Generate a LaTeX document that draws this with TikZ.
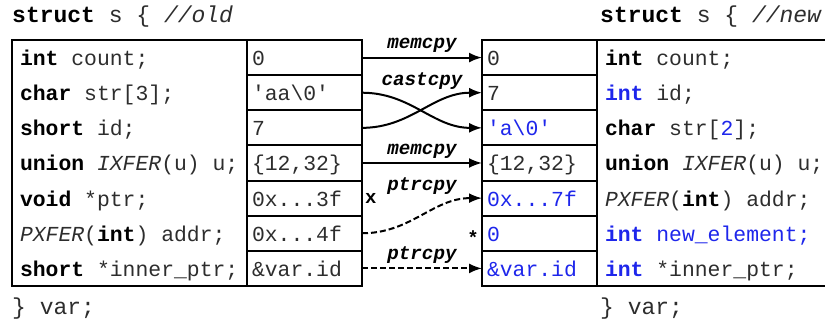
\documentclass[tikz,border=0pt]{standalone}
\usepackage{fontspec}
\setmonofont{Liberation Mono}
\usetikzlibrary{arrows.meta,positioning,calc}
\definecolor{newblue}{RGB}{30,38,235}
\definecolor{codegray}{RGB}{45,45,45}
\newcommand{\kw}[1]{{\bfseries\color{black}#1}}
\newcommand{\ty}[1]{\textit{#1}}
\newcommand{\nb}[1]{\textcolor{newblue}{#1}}

\begin{document}
\begin{tikzpicture}[x=1pt, y=-1pt,
	code/.style = {font=\ttfamily\fontsize{21.4}{24}\selectfont, text=codegray},
	cell/.style = {code, draw, line width=2pt, outer sep=0pt, minimum width=115pt, minimum height=35.14pt, inner xsep=5pt, inner ysep=0pt, text width=105pt, align=flush left, text height=20pt, text depth=4pt},
	lfield/.style = {code, outer sep=0pt, minimum height=35.14pt, minimum width=235pt, inner xsep=8pt, inner ysep=0pt, text width=219pt, align=flush left, text height=20pt, text depth=4pt},
	rfield/.style = {lfield, minimum width=245pt, text width=229pt},
	head/.style = {font=\ttfamily\fontsize{23}{26}\selectfont, text=codegray, inner sep=0pt, anchor=base west},
	lbl/.style = {font=\ttfamily\bfseries\itshape\fontsize{19.2}{21}\selectfont, inner sep=1pt},
	sym/.style = {font=\ttfamily\bfseries\fontsize{19}{21}\selectfont, inner sep=3pt},
	cp/.style = {line width=2pt, -{Latex[length=13pt,width=10pt]}},
	ptr/.style = {cp, dash pattern=on 6pt off 3pt}]
	\useasboundingbox (0,0) rectangle (825,323);

	% old struct
	\node[head] (oldhead) at (12,23) {\kw{struct} s \{ \ty{//old}};
	\node[cell] (ov1) at (304.5,57.57) {0};
	\node[cell, below=0pt of ov1] (ov2) {'aa\textbackslash0'};
	\node[cell, below=0pt of ov2] (ov3) {7};
	\node[cell, below=0pt of ov3] (ov4) {\{12,32\}};
	\node[cell, below=0pt of ov4] (ov5) {0x...3f};
	\node[cell, below=0pt of ov5] (ov6) {0x...4f};
	\node[cell, below=0pt of ov6] (ov7) {\&var.id};
	\node[lfield, left=0pt of ov1] (of1) {\kw{int} count;};
	\node[lfield, left=0pt of ov2] (of2) {\kw{char} str[3];};
	\node[lfield, left=0pt of ov3] (of3) {\kw{short} id;};
	\node[lfield, left=0pt of ov4] (of4) {\kw{union} \ty{IXFER}(u) u;};
	\node[lfield, left=0pt of ov5] (of5) {\kw{void} *ptr;};
	\node[lfield, left=0pt of ov6] (of6) {\ty{PXFER}(\kw{int}) addr;};
	\node[lfield, left=0pt of ov7] (of7) {\kw{short} *inner\_ptr;};
	\draw[line width=2pt] (of1.north west) rectangle (of7.south east);
	\node[head] (oldtail) at (12,314) {\} var;};

	% new struct
	\node[head] (newhead) at (600,23) {\kw{struct} s \{ \ty{//new}};
	\node[cell] (nv1) at (539.5,57.57) {0};
	\node[cell, below=0pt of nv1] (nv2) {7};
	\node[cell, below=0pt of nv2] (nv3) {\nb{'a\textbackslash0'}};
	\node[cell, below=0pt of nv3] (nv4) {\{12,32\}};
	\node[cell, below=0pt of nv4] (nv5) {\nb{0x...7f}};
	\node[cell, below=0pt of nv5] (nv6) {\nb{0}};
	\node[cell, below=0pt of nv6] (nv7) {\nb{\&var.id}};
	\node[rfield, right=0pt of nv1] (nf1) {\kw{int} count;};
	\node[rfield, right=0pt of nv2] (nf2) {\nb{\bfseries int} id;};
	\node[rfield, right=0pt of nv3] (nf3) {\kw{char} str[\nb{2}];};
	\node[rfield, right=0pt of nv4] (nf4) {\kw{union} \ty{IXFER}(u) u;};
	\node[rfield, right=0pt of nv5] (nf5) {\ty{PXFER}(\kw{int}) addr;};
	\node[rfield, right=0pt of nv6] (nf6) {\nb{\bfseries int} \nb{new\_element;}};
	\node[rfield, right=0pt of nv7] (nf7) {\nb{\bfseries int} *inner\_ptr;};
	\draw[line width=2pt] (nf1.north west) rectangle (nf7.south east);
	\node[head] (newtail) at (600,314) {\} var;};

	% copies
	\draw[cp] (ov1.east) -- node[lbl, above=3pt] (l1) {memcpy} (nv1.west);
	\draw[cp] (ov2.east) to[out=0,in=180] (nv3.west);
	\draw[cp] (ov3.east) to[out=0,in=180] (nv2.west);
	\node[lbl, above=2pt] (l2) at ($(ov2.east)!0.5!(nv2.west)$) {castcpy};
	\draw[cp] (ov4.east) -- node[lbl, above=3pt] (l3) {memcpy} (nv4.west);
	\draw[ptr] (ov6.east) to[out=0,in=180] (nv5.west);
	\node[lbl, above=2pt] (l4) at ($(ov5.east)!0.5!(nv5.west)$) {ptrcpy};
	\node[sym, anchor=west] (xsign) at (ov5.east) {x};
	\node[sym, anchor=east, yshift=-4pt] (star) at (nv6.west) {*};
	\draw[ptr] (ov7.east) -- node[lbl, above=3pt] (l5) {ptrcpy} (nv7.west);
\end{tikzpicture}
\end{document}
